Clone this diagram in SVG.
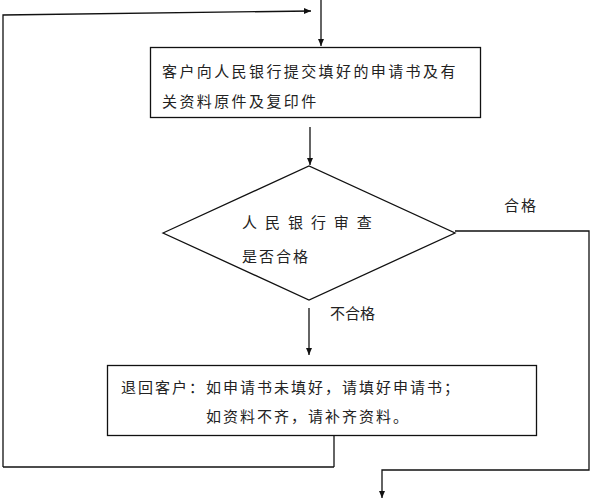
<svg xmlns="http://www.w3.org/2000/svg" width="592" height="500" viewBox="0 0 592 500">
<style>
.box{fill:#fff;stroke:#111;stroke-width:1.3}
.ln{fill:none;stroke:#111;stroke-width:1.3}
.t{font-family:"Noto Sans CJK SC","Liberation Sans",sans-serif;font-size:15px;fill:#222}
</style>
<defs>
<marker id="ah" markerWidth="8" markerHeight="8" refX="7" refY="4" orient="auto" markerUnits="userSpaceOnUse">
<path d="M0,1 L7,4 L0,7 Z" fill="#111"/>
</marker>
</defs>
<rect width="592" height="500" fill="#fff"/>
<g id="connectors">
<path class="ln" d="M321,0 V46" marker-end="url(#ah)"/>
<path class="ln" d="M310,127 V165" marker-end="url(#ah)"/>
<path class="ln" d="M309,308 V355" marker-end="url(#ah)"/>
<path class="ln" d="M334,435 V467"/>
<path class="ln" d="M334,467 H3" stroke-width="2" stroke="#333"/>
<path class="ln" d="M3,467 V15 L311,11" marker-end="url(#ah)"/>
<path class="ln" d="M455,231 H589 V470 H382 V498" marker-end="url(#ah)"/>
</g>
<g id="n1">
<rect class="box" x="150.5" y="47.5" width="330" height="70"/>
<text class="t" x="162" y="77" letter-spacing="2.4">客户向人民银行提交填好的申请书及有</text>
<text class="t" x="162" y="107" letter-spacing="2.4">关资料原件及复印件</text>
</g>
<g id="n2">
<polygon class="box" points="163,233 309,166 455,233 309,300"/>
<text class="t" x="242" y="228" letter-spacing="2.3">人 民 银 行 审 查</text>
<text class="t" x="242" y="262" letter-spacing="2">是否合格</text>
</g>
<g id="n3">
<rect class="box" x="107.5" y="365.5" width="429" height="70"/>
<text class="t" x="121" y="393" letter-spacing="2">退回客户：如申请书未填好，请填好申请书；</text>
<text class="t" x="206" y="422" letter-spacing="2">如资料不齐，请补齐资料。</text>
</g>
<g id="labels">
<text class="t" x="504" y="211" letter-spacing="2">合格</text>
<text class="t" x="330" y="319" letter-spacing="0">不合格</text>
</g>
</svg>
